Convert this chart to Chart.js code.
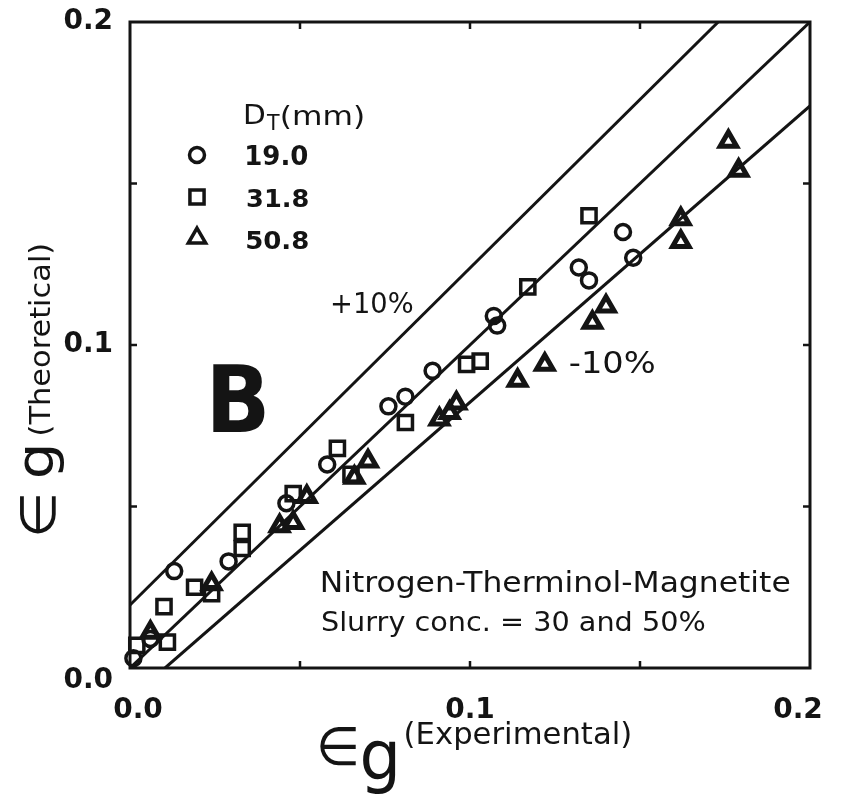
<!DOCTYPE html>
<html lang="en">
<head>
<meta charset="UTF-8">
<title>Gas holdup: theoretical vs experimental</title>
<script src="https://cdn.jsdelivr.net/npm/chart.js"></script>
<style>
  html, body { margin: 0; padding: 0; background: #fff; }
  #chart { display: block; }
</style>
</head>
<body>
<canvas id="chart" width="842" height="797"></canvas>
<script>
// D_T = 19.0 mm (circles)
const d190x = [0.001, 0.006, 0.013, 0.029, 0.046, 0.058, 0.076, 0.081, 0.089, 0.107, 0.108, 0.132, 0.135, 0.145, 0.148];
const d190y = [0.003, 0.009, 0.030, 0.033, 0.051, 0.063, 0.081, 0.084, 0.092, 0.109, 0.106, 0.124, 0.120, 0.135, 0.127];

// D_T = 31.8 mm (squares)
const d318x = [0.002, 0.011, 0.010, 0.019, 0.024, 0.033, 0.033, 0.048, 0.061, 0.065, 0.081, 0.099, 0.103, 0.117, 0.135];
const d318y = [0.007, 0.008, 0.019, 0.025, 0.023, 0.042, 0.037, 0.054, 0.068, 0.060, 0.076, 0.094, 0.095, 0.118, 0.140];

// D_T = 50.8 mm (triangles)
const d508x = [0.006, 0.024, 0.044, 0.048, 0.052, 0.066, 0.070, 0.091, 0.094, 0.096, 0.114, 0.122, 0.136, 0.140, 0.162, 0.162, 0.176, 0.179];
const d508y = [0.011, 0.026, 0.044, 0.045, 0.053, 0.059, 0.064, 0.077, 0.079, 0.082, 0.089, 0.094, 0.107, 0.112, 0.132, 0.139, 0.163, 0.154];

// parity line and the +10% / -10% band
const parityX = [0, 0.2],      parityY = [0, 0.2];
const upperX  = [0, 0.173],    upperY  = [0.0195, 0.2];
const lowerX  = [0.0103, 0.2], lowerY  = [0, 0.174];

// axis ticks: marks every 0.05, labels only on these
const tickStep = 0.05;
const tickLabels = ['0.0', '0.1', '0.2'];

const series = ['19.0', '31.8', '50.8'];

const ink = '#141414';
const sans = '"DejaVu Sans", sans-serif';
const zip = (xs, ys) => xs.map((v, i) => ({ x: v, y: ys[i] }));

function lineSet(xs, ys) {
  return {
    data: zip(xs, ys),
    showLine: true,
    borderColor: ink,
    borderWidth: 3,
    pointRadius: 0,
    pointHoverRadius: 0,
    fill: false
  };
}

function markerSet(label, xs, ys, style, radius, width) {
  return {
    label: label,
    data: zip(xs, ys),
    pointStyle: style,
    pointRadius: radius,
    pointHoverRadius: radius,
    pointBorderWidth: width,
    borderColor: ink,
    backgroundColor: 'rgba(0,0,0,0)',
    clip: 12
  };
}

const labelFor = v => {
  const i = Math.round(v / 0.1);
  return Math.abs(v - i * 0.1) < 1e-6 && tickLabels[i] !== undefined ? tickLabels[i] : '';
};

// draws text squeezed/stretched so its ink fills the given box [l, t, r, b]
function fitText(ctx, text, font, box) {
  ctx.save();
  ctx.font = font;
  ctx.textAlign = 'left';
  ctx.textBaseline = 'alphabetic';
  const m = ctx.measureText(text);
  const w = m.actualBoundingBoxLeft + m.actualBoundingBoxRight;
  const h = m.actualBoundingBoxAscent + m.actualBoundingBoxDescent;
  const [l, t, r, b] = box;
  ctx.translate(l, t);
  ctx.scale((r - l) / w, (b - t) / h);
  ctx.fillText(text, m.actualBoundingBoxLeft, m.actualBoundingBoxAscent);
  ctx.restore();
}

// same, but reading bottom-to-top, centred on (cx, cy)
function fitTextUp(ctx, text, font, cx, cy, len, thick) {
  ctx.save();
  ctx.translate(cx, cy);
  ctx.rotate(-Math.PI / 2);
  fitText(ctx, text, font, [-len / 2, -thick / 2, len / 2, thick / 2]);
  ctx.restore();
}

const decorations = {
  id: 'decorations',
  afterDatasetsDraw(chart) {
    const { ctx, chartArea: a, scales: { x, y } } = chart;
    ctx.save();
    ctx.strokeStyle = ink;
    ctx.fillStyle = ink;

    // frame
    ctx.lineWidth = 3;
    ctx.strokeRect(a.left, a.top, a.right - a.left, a.bottom - a.top);

    // inward tick marks on all four sides, labels on the bottom and left
    ctx.lineWidth = 2.5;
    ctx.beginPath();
    x.ticks.forEach(t => {
      const px = x.getPixelForValue(t.value);
      if (px < a.left + 2 || px > a.right - 2) return;
      ctx.moveTo(px, a.bottom); ctx.lineTo(px, a.bottom - 7);
      ctx.moveTo(px, a.top);    ctx.lineTo(px, a.top + 7);
    });
    y.ticks.forEach(t => {
      const py = y.getPixelForValue(t.value);
      if (py < a.top + 2 || py > a.bottom - 2) return;
      ctx.moveTo(a.left, py);  ctx.lineTo(a.left + 7, py);
      ctx.moveTo(a.right, py); ctx.lineTo(a.right - 7, py);
    });
    ctx.stroke();

    ctx.font = `bold 28px ${sans}`;
    ctx.textBaseline = 'middle';
    ctx.textAlign = 'center';
    x.ticks.forEach(t => {
      const s = labelFor(t.value);
      if (!s) return;
      // end labels nudged inward so they stay under the frame
      const shift = t.value === x.min ? 8 : (t.value === x.max ? -12 : 0);
      ctx.fillText(s, x.getPixelForValue(t.value) + shift, a.bottom + 43);
    });
    ctx.textAlign = 'right';
    y.ticks.forEach(t => {
      const s = labelFor(t.value);
      if (s) ctx.fillText(s, a.left - 17, y.getPixelForValue(t.value) + (t.value === y.min ? 13 : 0));
    });

    // legend
    fitText(ctx, 'D', `28px ${sans}`, [245, 104, 264, 124]);
    fitText(ctx, 'T', `22px ${sans}`, [266, 114, 280, 130]);
    fitText(ctx, '(mm)', `28px ${sans}`, [282, 105, 363, 129]);

    const sets = chart.data.datasets.slice(3);
    const rows = [155, 197, 238];
    const nums = [[247, 145, 308, 165], [247, 188, 308, 207], [247, 230, 308, 249]];
    sets.forEach((ds, i) => {
      ctx.save();
      ctx.strokeStyle = ink;
      ctx.fillStyle = 'rgba(0,0,0,0)';
      ctx.lineWidth = 3.5;
      Chart.helpers.drawPoint(ctx, {
        pointStyle: ds.pointStyle,
        radius: ds.pointStyle === 'triangle' ? 10 : ds.pointRadius,
        rotation: 0,
        borderWidth: 3.5
      }, 197, rows[i]);
      ctx.restore();
      fitText(ctx, series[i], `bold 28px ${sans}`, nums[i]);
    });

    // band labels and panel letter
    fitText(ctx, '+10%', `28px ${sans}`, [332, 292, 413, 313]);
    fitText(ctx, '-10%', `28px ${sans}`, [570, 350, 655, 373]);
    fitText(ctx, 'B', `bold 90px ${sans}`, [213, 363, 265, 432]);

    // system note
    fitText(ctx, 'Nitrogen-Therminol-Magnetite', `27px ${sans}`, [322, 570, 790, 598]);
    fitText(ctx, 'Slurry conc. = 30 and 50%', `27px ${sans}`, [322, 612, 705, 637]);

    // x axis title
    fitText(ctx, '\u2208', `52px ${sans}`, [320, 727, 356, 766]);
    fitText(ctx, 'g', `52px ${sans}`, [362, 742, 396, 795]);
    fitText(ctx, '(Experimental)', `22px ${sans}`, [405, 722, 630, 750]);

    // y axis title
    fitTextUp(ctx, '\u2208', `52px ${sans}`, 38, 515, 38, 36);
    fitTextUp(ctx, 'g', `52px ${sans}`, 44, 462, 30, 40);
    fitTextUp(ctx, '(Theoretical)', `22px ${sans}`, 42, 340, 190, 24);

    ctx.restore();
  }
};

new Chart(document.getElementById('chart'), {
  type: 'scatter',
  data: {
    datasets: [
      lineSet(upperX, upperY),
      lineSet(parityX, parityY),
      lineSet(lowerX, lowerY),
      markerSet(series[0], d190x, d190y, 'circle', 7.5, 3.5),
      markerSet(series[1], d318x, d318y, 'rect', 10, 3.5),
      markerSet(series[2], d508x, d508y, 'triangle', 9.5, 5)
    ]
  },
  options: {
    responsive: false,
    animation: false,
    layout: { padding: { top: 22, right: 32, left: 0, bottom: 0 } },
    plugins: {
      legend: { display: false },
      tooltip: { enabled: false }
    },
    scales: {
      x: {
        type: 'linear',
        min: 0,
        max: 0.2,
        grid: { display: false, drawTicks: false },
        border: { display: false },
        ticks: { stepSize: tickStep, display: false },
        afterFit: s => { s.height = 129; }
      },
      y: {
        type: 'linear',
        min: 0,
        max: 0.2,
        grid: { display: false, drawTicks: false },
        border: { display: false },
        ticks: { stepSize: tickStep, display: false },
        afterFit: s => { s.width = 130; }
      }
    }
  },
  plugins: [decorations]
});
</script>
</body>
</html>
